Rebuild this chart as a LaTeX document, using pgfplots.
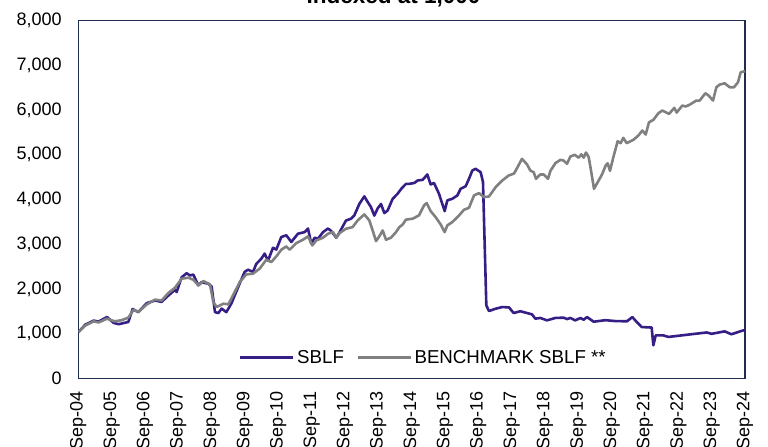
\documentclass[border=0pt]{standalone}
\usepackage{fontspec}
\setmainfont{Liberation Sans}
\usepackage{pgfplots}
\pgfplotsset{compat=1.18}
\definecolor{sblf}{RGB}{55,30,135}
\definecolor{bench}{RGB}{128,128,128}
\definecolor{axisblue}{RGB}{31,45,80}
\begin{document}
\begin{tikzpicture}[x=1bp,y=1bp]
\useasboundingbox (0,0) rectangle (768,447);
\node[anchor=base,font=\fontsize{22.5bp}{26bp}\selectfont\bfseries] at (393.5,443) {Indexed at 1,000};
\begin{axis}[
  at={(78.3bp,68.7bp)}, anchor=south west,
  scale only axis, width=666.7bp, height=357.6bp,
  xmin=0, xmax=20, ymin=0, ymax=8000,
  xtick={0,1,...,20},
  xticklabels={Sep-04,Sep-05,Sep-06,Sep-07,Sep-08,Sep-09,Sep-10,Sep-11,Sep-12,Sep-13,Sep-14,Sep-15,Sep-16,Sep-17,Sep-18,Sep-19,Sep-20,Sep-21,Sep-22,Sep-23,Sep-24},
  ytick={0,1000,...,8000},
  major tick length=0pt,
  axis line style={draw=axisblue, line width=1.5bp},
  tick label style={font=\fontsize{18bp}{21bp}\selectfont},
  yticklabel style={anchor=east, inner sep=0pt, xshift=-16.5bp, /pgf/number format/.cd, fixed, 1000 sep={,}, assume math mode=true},
  xticklabel style={rotate=90, anchor=east, inner sep=0pt},
  xticklabel shift=13.4bp,
  legend style={at={(0.518,0.025)}, anchor=south, draw=none, fill=none,
    legend columns=2, font=\fontsize{18.7bp}{21bp}\selectfont,
    nodes={inner sep=2.5bp},
    /tikz/every even column/.append style={column sep=10bp}},
  legend image code/.code={\draw[#1] (0bp,0bp) -- (53bp,0bp);},
  every axis plot/.append style={line width=2.6bp, line join=round},
]
\addplot[color=sblf] coordinates {
(0.00,1030)(0.21,1200)(0.46,1290)(0.61,1270)(0.86,1370)(1.06,1240)(1.21,1210)(1.50,1260)
(1.63,1550)(1.80,1480)(2.05,1680)(2.30,1740)(2.50,1710)(2.70,1850)(2.90,1980)(2.95,1930)
(3.10,2260)(3.25,2350)(3.35,2300)(3.45,2320)(3.60,2080)(3.70,2150)(3.90,2115)(4.00,2050)
(4.10,1480)(4.20,1460)(4.30,1560)(4.44,1480)(4.59,1670)(4.69,1850)(4.84,2120)(4.99,2380)
(5.09,2430)(5.24,2380)(5.34,2560)(5.49,2675)(5.59,2790)(5.69,2630)(5.84,2920)(5.94,2880)
(6.09,3160)(6.24,3200)(6.39,3050)(6.59,3235)(6.79,3270)(6.89,3350)(6.99,3010)(7.09,3145)
(7.19,3120)(7.34,3270)(7.49,3350)(7.58,3300)(7.74,3145)(7.84,3270)(8.03,3530)(8.18,3570)
(8.28,3645)(8.43,3900)(8.58,4070)(8.68,3945)(8.78,3830)(8.88,3640)(8.98,3800)(9.08,3900)
(9.18,3695)(9.28,3755)(9.43,4015)(9.58,4130)(9.70,4250)(9.83,4350)(9.93,4350)(10.08,4370)
(10.18,4425)(10.33,4440)(10.47,4560)(10.57,4336)(10.67,4370)(10.82,4128)(10.92,3900)(10.99,3740)
(11.07,3980)(11.22,4016)(11.37,4090)(11.47,4240)(11.62,4295)(11.72,4463)(11.82,4650)(11.92,4686)
(12.07,4610)(12.14,4390)(12.24,1630)(12.32,1505)(12.52,1557)(12.72,1594)(12.92,1585)(13.06,1460)
(13.26,1500)(13.46,1460)(13.61,1430)(13.71,1334)(13.86,1350)(14.06,1296)(14.31,1350)(14.56,1356)
(14.66,1325)(14.76,1350)(14.91,1296)(15.06,1350)(15.16,1310)(15.26,1370)(15.46,1266)(15.81,1300)
(16.11,1280)(16.46,1275)(16.62,1370)(16.75,1260)(16.90,1147)(17.20,1135)(17.25,738)(17.32,960)
(17.55,960)(17.70,925)(18.10,960)(18.50,995)(18.85,1025)(19.00,995)(19.39,1050)(19.59,985)
(19.94,1070)(20.00,1075)
};
\addlegendentry{SBLF}
\addplot[color=bench] coordinates {
(0.00,1030)(0.21,1180)(0.46,1274)(0.61,1250)(0.86,1334)(1.09,1274)(1.30,1300)(1.50,1356)
(1.66,1535)(1.80,1482)(2.05,1650)(2.30,1759)(2.50,1740)(2.70,1907)(2.90,2026)(3.10,2228)
(3.30,2250)(3.45,2205)(3.60,2079)(3.75,2175)(3.95,2100)(4.05,1706)(4.15,1594)(4.35,1669)
(4.50,1654)(4.64,1855)(4.84,2150)(5.04,2325)(5.24,2340)(5.44,2452)(5.64,2653)(5.79,2600)
(5.94,2727)(6.09,2876)(6.24,2950)(6.34,2876)(6.54,3025)(6.74,3100)(6.89,3175)(7.02,2972)
(7.14,3085)(7.34,3145)(7.49,3234)(7.64,3270)(7.74,3145)(7.84,3250)(8.03,3346)(8.23,3383)
(8.38,3532)(8.58,3665)(8.73,3532)(8.83,3308)(8.93,3070)(9.03,3175)(9.13,3308)(9.23,3100)
(9.38,3145)(9.53,3270)(9.63,3380)(9.73,3440)(9.83,3550)(10.03,3570)(10.22,3645)(10.37,3867)
(10.45,3920)(10.57,3740)(10.72,3605)(10.87,3442)(10.99,3270)(11.07,3420)(11.22,3495)(11.42,3643)
(11.57,3770)(11.72,3815)(11.87,4090)(12.02,4143)(12.17,4053)(12.32,4068)(12.52,4276)(12.72,4425)
(12.91,4537)(13.07,4580)(13.16,4700)(13.31,4910)(13.46,4785)(13.56,4649)(13.66,4610)(13.73,4463)
(13.86,4560)(13.96,4560)(14.09,4463)(14.16,4636)(14.31,4812)(14.46,4887)(14.56,4870)(14.66,4798)
(14.76,4960)(14.89,5000)(15.01,4935)(15.09,5010)(15.16,4935)(15.23,5051)(15.31,4950)(15.38,4650)
(15.47,4240)(15.61,4425)(15.71,4560)(15.82,4760)(15.88,4810)(15.95,4640)(16.05,4946)(16.18,5304)
(16.27,5260)(16.35,5379)(16.45,5260)(16.65,5334)(16.80,5430)(16.92,5543)(17.02,5453)(17.12,5728)
(17.25,5780)(17.40,5930)(17.52,5990)(17.72,5915)(17.88,6050)(17.95,5945)(18.12,6102)(18.22,6080)
(18.35,6125)(18.54,6213)(18.64,6213)(18.81,6377)(18.91,6325)(19.04,6213)(19.14,6511)(19.24,6570)
(19.39,6600)(19.54,6511)(19.67,6511)(19.79,6623)(19.87,6846)(20.00,6870)
};
\addlegendentry{BENCHMARK SBLF **}
\end{axis}
\end{tikzpicture}
\end{document}
